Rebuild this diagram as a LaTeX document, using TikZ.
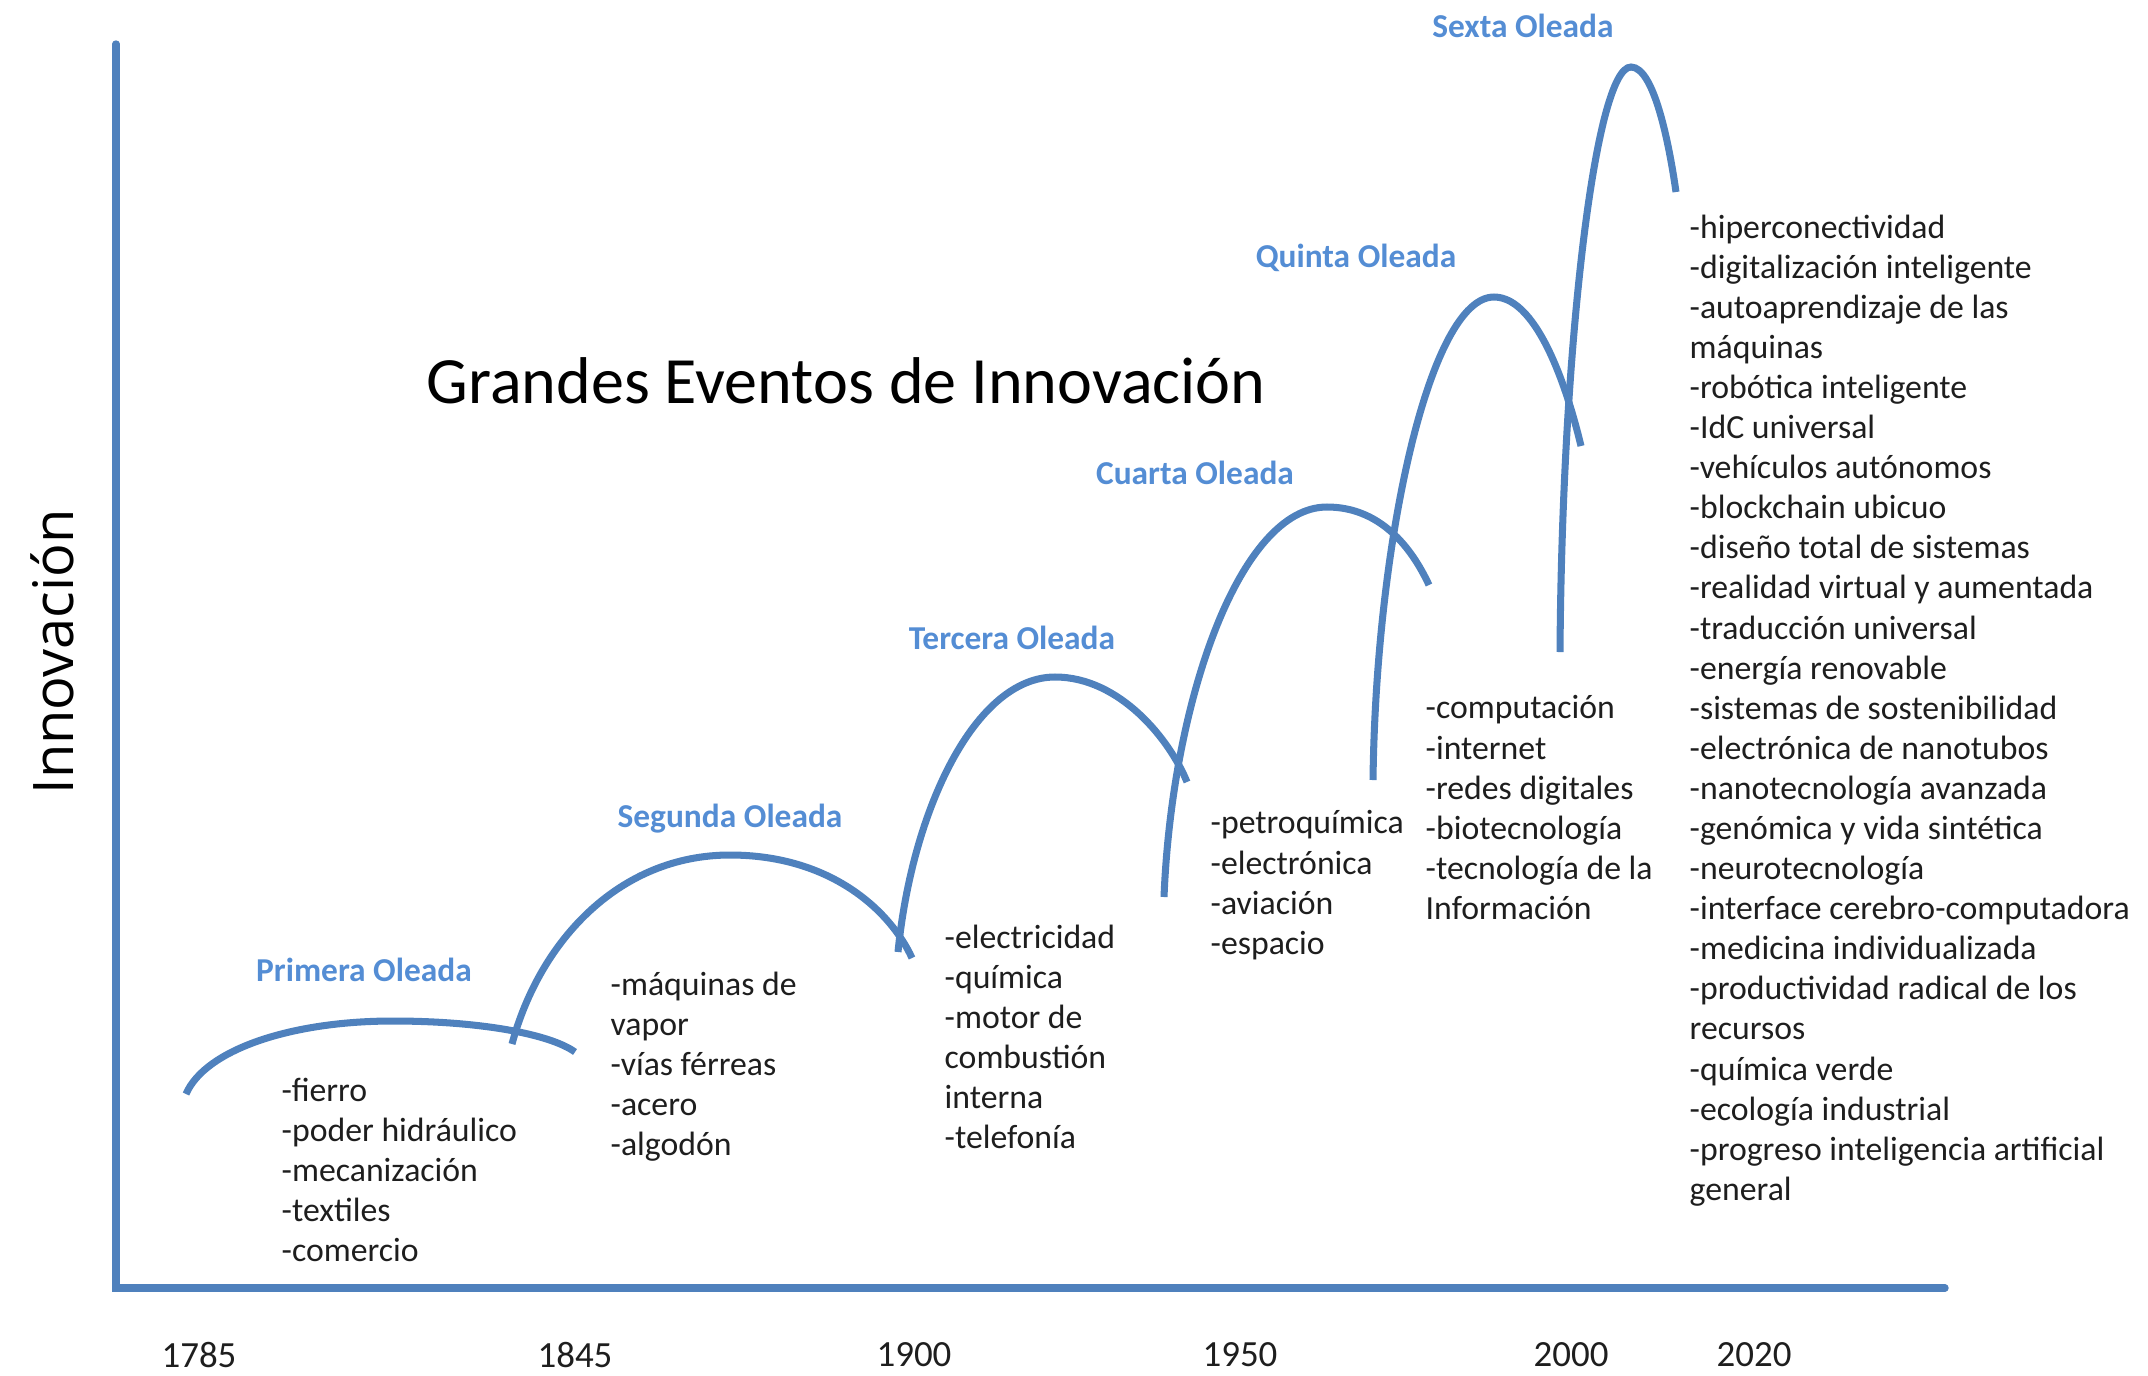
\documentclass[tikz,border=0pt]{standalone}
\usepackage{fontspec}
\setmainfont{Carlito}
\newfontfamily\axisfont{Open Sans}
\usetikzlibrary{positioning}
\definecolor{waveblue}{RGB}{79,129,189}
\definecolor{labelblue}{RGB}{84,141,212}
\definecolor{itemgray}{RGB}{30,30,30}

\begin{document}
\begin{tikzpicture}[
      x=0.01cm, y=-0.01cm,
      axis/.style={line width=2.1pt, waveblue, line cap=round},
      wave/.style={line width=2pt, waveblue},
      wavelbl/.style={font=\fontsize{9.5}{11}\selectfont\bfseries, text=labelblue, inner sep=0pt},
      items/.style={font=\fontsize{9.6}{11.4}\selectfont, align=left, anchor=north west,
        inner sep=0pt, text=itemgray},
      year/.style={font=\fontsize{10.5}{12}\selectfont, inner sep=0pt, text=itemgray}
    ]
    \useasboundingbox (0,0) rectangle (2148,1375);

    % axes
    \coordinate (origin) at (116,1288);
    \coordinate (ytop) at (116,44);
    \coordinate (xend) at (1945,1288);
    \draw[axis] (ytop) -- (origin) -- (xend);

    \node[rotate=90, inner sep=0pt] (ylabel) at (52,652) {\axisfont\fontsize{15.9}{18}\selectfont Innovación};
    \node[anchor=west, inner sep=0pt] (title) at (426,381) {\fontsize{18.8}{22}\selectfont Grandes Eventos de Innovación};

    % years
    \node[year] (y1785) at (199,1355) {1785};
    \node[year] (y1845) at (575,1355) {1845};
    \node[year] (y1900) at (914,1355) {1900};
    \node[year] (y1950) at (1240,1355) {1950};
    \node[year] (y2000) at (1571,1355) {2000};
    \node[year] (y2020) at (1754,1355) {2020};

    % waves
    \draw[wave] (186,1094) .. controls (205,1050) and (290,1021) .. (393,1021)
                           .. controls (480,1021) and (550,1034) .. (575,1052);
    \draw[wave] (512,1044) .. controls (540,940) and (620,855) .. (730,855)
                           .. controls (830,855) and (890,910) .. (912,958);
    \draw[wave] (898,952) .. controls (912,810) and (975,677) .. (1055,677)
                          .. controls (1120,677) and (1170,740) .. (1187,782);
    \draw[wave] (1164,897) .. controls (1172,700) and (1240,507) .. (1327,507)
                           .. controls (1385,507) and (1415,555) .. (1429,585);
    \draw[wave] (1373,780) .. controls (1376,540) and (1430,297) .. (1494,297)
                           .. controls (1540,297) and (1570,400) .. (1581,446);
    \draw[wave] (1560,652) .. controls (1562,350) and (1595,67) .. (1631,67)
                           .. controls (1655,67) and (1670,150) .. (1676,192);

    % wave names
    \node[wavelbl] (w1) at (364,970) {Primera Oleada};
    \node[wavelbl] (w2) at (730,819) {Segunda Oleada};
    \node[wavelbl] (w3) at (1012,638) {Tercera Oleada};
    \node[wavelbl] (w4) at (1195,473) {Cuarta Oleada};
    \node[wavelbl] (w5) at (1356,258) {Quinta Oleada};
    \node[wavelbl] (w6) at (1523,26) {Sexta Oleada};

    % innovations per wave
    \node[items] (i1) at (281,1077) {-fierro\\-poder hidráulico\\-mecanización\\-textiles\\-comercio};
    \node[items] (i2) at (610,971) {-máquinas de\\vapor\\-vías férreas\\-acero\\-algodón};
    \node[items] (i3) at (944,924) {-electricidad\\-química\\-motor de\\combustión\\interna\\-telefonía};
    \node[items] (i4) at (1210,810) {-petroquímica\\-electrónica\\-aviación\\-espacio};
    \node[items] (i5) at (1425,695) {-computación\\-internet\\-redes digitales\\-biotecnología\\-tecnología de la\\Información};
    \node[items] (i6) at (1689,214) {-hiperconectividad\\-digitalización inteligente\\-autoaprendizaje de las\\máquinas\\-robótica inteligente\\-IdC universal\\-vehículos autónomos\\-blockchain ubicuo\\-diseño total de sistemas\\-realidad virtual y aumentada\\-traducción universal\\-energía renovable\\-sistemas de sostenibilidad\\-electrónica de nanotubos\\-nanotecnología avanzada\\-genómica y vida sintética\\-neurotecnología\\-interface cerebro-computadora\\-medicina individualizada\\-productividad radical de los\\recursos\\-química verde\\-ecología industrial\\-progreso inteligencia artificial\\general};
\end{tikzpicture}
\end{document}
